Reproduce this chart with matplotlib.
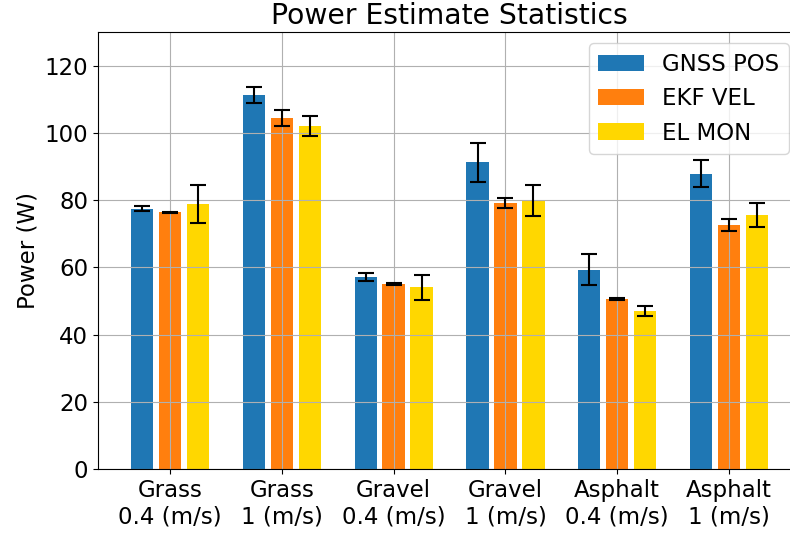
import numpy as np
from matplotlib import pyplot as plt

categories = ['Grass\n0.4 (m/s)', 'Grass\n1 (m/s)', 'Gravel\n0.4 (m/s)',
              'Gravel\n1 (m/s)', 'Asphalt\n0.4 (m/s)', 'Asphalt\n1 (m/s)']
series_names = ['GNSS POS', 'EKF VEL', 'EL MON']

gnss_mean = [77.4, 111.2, 57.2, 91.2, 59.3, 87.9]
gnss_std = [0.7, 2.3, 1.2, 5.8, 4.6, 3.9]
ekf_mean = [76.4, 104.4, 55.1, 79.1, 50.5, 72.7]
ekf_std = [0.1, 2.5, 0.3, 1.6, 0.3, 1.8]
elmon_mean = [78.8, 102.1, 54.1, 79.8, 47.0, 75.5]
elmon_std = [5.6, 3.0, 3.7, 4.6, 1.5, 3.6]

colors = ['tab:blue', 'tab:orange', 'gold']

plt.rcParams['font.size'] = 16.5

fig = plt.figure(figsize=(7.9, 5.35), dpi=100)
ax = fig.add_axes([98 / 790, 66 / 535, 702 / 790, 437 / 535])

x = np.arange(len(categories))
width = 0.2
means = [gnss_mean, ekf_mean, elmon_mean]
stds = [gnss_std, ekf_std, elmon_std]
for i, (m, s) in enumerate(zip(means, stds)):
    ax.bar(x + (i - 1) * 0.25, m, width, yerr=s, color=colors[i],
           label=series_names[i], capsize=6,
           error_kw=dict(elinewidth=1.5, capthick=1.5))

ax.set_xticks(x)
ax.set_xticklabels(categories)
ax.set_ylim(0, 130)
ax.set_xlim(-0.645, 5.635)
ax.set_ylabel('Power (W)')
ax.set_title('Power Estimate Statistics', fontsize=20.3)
ax.grid(True)
ax.legend(loc='upper right')

fig.savefig('out.png', dpi=100)
